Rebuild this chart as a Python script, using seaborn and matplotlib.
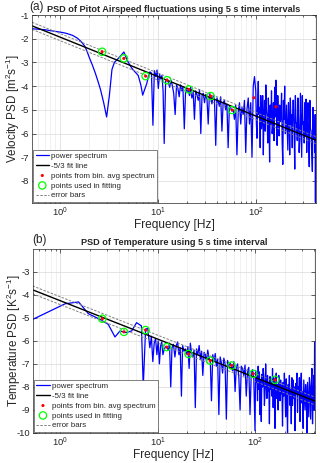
import numpy as np
import pandas as pd
import seaborn as sns
import matplotlib
matplotlib.use("Agg")
from matplotlib import pyplot as plt

# ---- data (log10 PSD values) ----
freq_lo_a = [0.52, 0.6, 0.7, 0.8, 0.9, 1.0, 1.1, 1.2, 1.35, 1.5,
             1.65, 1.8, 1.9, 2.0, 2.15, 2.3, 2.45, 2.6, 2.8, 3.0,
             3.2, 3.4, 3.6, 3.8, 4.1, 4.5, 4.8, 5.0, 5.3, 5.6,
             6.0, 6.3, 6.7, 7.0, 7.4, 7.7, 8.0, 8.3, 8.6, 8.9]
psd_lo_a = [-1.58, -1.60, -1.62, -1.66, -1.69, -1.72, -1.75, -1.79, -1.86, -1.97,
            -2.12, -2.32, -2.55, -2.80, -3.12, -3.45, -3.80, -4.15, -4.70, -5.30,
            -4.40, -3.30, -3.00, -2.90, -2.76, -2.56, -2.85, -3.00, -3.18, -3.32,
            -3.45, -3.55, -3.95, -4.38, -4.10, -3.89, -3.60, -3.40, -3.45, -5.65]

freq_lo_b = [0.52, 1.12, 1.54, 1.94, 2.56, 3.1, 3.64, 4.1, 4.7, 5.4,
             6.06, 6.8, 7.1, 7.5, 7.9, 8.3, 8.6, 8.9]
psd_lo_b = [-5.07, -4.39, -4.31, -4.82, -5.07, -5.28, -5.83, -5.57, -5.64, -5.57,
            -5.21, -5.35, -8.00, -5.50, -5.45, -6.30, -5.80, -6.90]

freq_hi = [9.2, 9.5, 9.8, 10.1, 10.4, 10.7, 11.0, 11.3, 11.6, 12.0,
           12.4, 12.8, 13.2, 13.6, 14.0, 14.5, 15.0, 15.5, 16.0, 16.5,
           17.0, 17.5, 18.0, 18.6, 19.2, 19.8, 20.4, 21.0, 21.6, 22.2,
           22.9, 23.6, 24.3, 25.0, 25.8, 26.6, 27.4, 28.2, 29.0, 29.9,
           30.8, 31.7, 32.6, 33.6, 34.6, 35.6, 36.7, 37.8, 38.9, 40.0,
           41.2, 42.4, 43.7, 45.0, 46.3, 47.7, 49.1, 50.6, 52.1, 53.6,
           55.2, 56.9, 58.6, 60.4, 62.2, 64.0, 66.0, 68.0, 70.0, 72.0,
           74.2, 76.4, 78.7, 81.0, 83.5, 86.0, 88.5, 91.2, 93.9, 96.7,
           99.6, 101.1, 102.6, 104.1, 105.7, 107.3, 108.9, 110.5, 112.1, 113.8,
           115.5, 117.2, 119.0, 120.8, 122.5, 124.4, 126.2, 128.1, 130.0, 132.0,
           133.9, 135.9, 137.9, 140.0, 142.0, 144.2, 146.3, 148.5, 150.7, 153.0,
           155.2, 157.5, 159.8, 162.2, 164.6, 167.1, 169.6, 172.1, 174.6, 177.2,
           179.9, 182.6, 185.3, 188.0, 190.8, 193.6, 196.5, 199.4, 202.4, 205.4,
           208.5, 211.6, 214.8, 218.0, 221.2, 224.5, 227.8, 231.2, 234.7, 238.2,
           241.7, 245.3, 249.0, 252.7, 256.4, 260.2, 264.1, 268.0, 272.0, 276.1,
           280.2, 284.4, 288.6, 292.9, 297.3, 301.7, 306.2, 310.8, 315.4, 320.1,
           324.8, 329.7, 334.6, 339.6, 344.6, 349.8, 355.0, 360.3, 365.6, 371.1,
           376.6, 382.2, 387.9, 393.7, 399.5, 402.0, 404.5, 407.0, 408.5, 410.0]
psd_hi_a = [-3.35, -3.60, -3.32, -4.10, -3.50, -3.70, -3.55, -4.20, -6.42, -3.80,
            -3.70, -3.85, -4.05, -3.75, -3.95, -4.30, -5.20, -3.95, -4.10, -4.45,
            -3.95, -4.20, -4.05, -5.80, -4.10, -4.25, -4.15, -4.40, -4.05, -4.50,
            -4.25, -5.40, -4.20, -4.35, -4.60, -4.15, -6.00, -4.40, -4.30, -4.70,
            -4.35, -4.55, -5.60, -4.30, -4.45, -4.75, -4.40, -4.60, -6.50, -4.50,
            -4.65, -4.85, -4.45, -5.90, -4.70, -4.60, -5.00, -4.75, -6.60, -4.85,
            -4.90, -5.05, -5.00, -5.40, -4.80, -6.90, -5.10, -4.70, -5.60, -4.90,
            -5.20, -4.60, -6.80, -5.00, -4.50, -5.60, -4.70, -7.00, -4.00, -3.60,
            -4.20, -5.60, -6.20, -4.60, -3.80, -5.20, -4.90, -6.60, -4.40, -5.80,
            -5.50, -4.40, -6.90, -5.10, -4.60, -5.90, -3.95, -5.00, -5.30, -6.40,
            -4.50, -5.40, -7.20, -4.80, -5.60, -4.20, -6.00, -5.70, -4.70, -6.30,
            -4.05, -5.30, -3.75, -5.00, -6.50, -4.40, -5.60, -6.10, -4.80, -5.50,
            -5.30, -4.30, -6.40, -7.30, -4.60, -5.40, -4.00, -6.00, -5.80, -4.80,
            -5.80, -6.70, -4.70, -5.30, -6.90, -4.50, -5.60, -5.20, -6.60, -4.60,
            -4.60, -5.90, -7.50, -4.40, -5.50, -5.60, -6.30, -4.50, -5.40, -6.80,
            -6.20, -4.30, -5.70, -7.00, -4.40, -5.60, -5.50, -6.40, -4.70, -6.10,
            -4.55, -6.80, -5.50, -4.70, -6.20, -7.40, -4.60, -5.80, -5.90, -6.90,
            -7.60, -4.90, -6.20, -5.60, -6.80, -5.20, -8.90, -6.00, -7.20, -6.20]
psd_hi_b = [-6.10, -5.90, -6.60, -6.00, -7.00, -6.20, -6.05, -6.60, -6.40, -6.25,
            -6.27, -6.40, -6.10, -8.00, -6.30, -6.15, -6.70, -6.20, -6.05, -6.60,
            -6.30, -8.40, -6.20, -6.45, -6.35, -6.60, -6.25, -7.20, -6.10, -6.50,
            -6.70, -6.40, -8.90, -6.35, -6.60, -6.20, -6.80, -6.45, -7.50, -6.50,
            -6.60, -6.90, -6.40, -6.75, -6.86, -8.60, -6.60, -6.90, -6.55, -7.10,
            -6.80, -9.20, -6.70, -6.95, -7.40, -6.75, -7.00, -9.40, -6.85, -7.10,
            -6.95, -7.07, -7.30, -6.90, -8.20, -7.15, -7.00, -7.60, -9.00, -7.10,
            -7.20, -7.50, -7.05, -8.40, -7.30, -7.15, -9.20, -7.40, -7.25, -7.60,
            -9.90, -7.30, -7.80, -7.50, -8.60, -7.10, -8.10, -7.35, -9.20, -7.70,
            -9.50, -7.45, -8.00, -7.20, -7.60, -8.80, -8.30, -7.00, -7.90, -8.50,
            -7.50, -8.20, -7.80, -9.60, -7.55, -8.10, -7.70, -8.40, -7.20, -8.90,
            -7.60, -8.00, -9.80, -7.75, -7.40, -8.50, -7.90, -9.00, -7.50, -8.20,
            -8.60, -7.70, -8.30, -7.95, -9.70, -7.80, -8.40, -7.40, -8.20, -9.30,
            -7.65, -8.60, -10.0, -7.90, -8.30, -7.50, -8.80, -8.10, -9.60, -7.60,
            -8.80, -7.70, -8.50, -8.00, -9.90, -7.85, -8.30, -7.40, -9.10, -8.00,
            -8.30, -7.60, -9.50, -8.00, -7.40, -8.70, -8.20, -9.80, -7.70, -8.40,
            -9.00, -7.90, -8.40, -10.0, -7.80, -8.60, -9.30, -7.60, -8.00, -9.40,
            -8.00, -7.20, -9.60, -8.20, -7.50, -9.00, -8.60, -6.30, -6.05, -9.00]

# bin-averaged spectrum points
freq_bins = [2.7, 4.5, 7.5, 12.4, 20.7, 34.5, 57.3, 95.5, 160]
bin_a = [-2.55, -2.83, -3.58, -3.75, -4.14, -4.42, -5.01, -4.49, -4.87]
bin_b = [-5.04, -5.61, -5.53, -6.27, -6.57, -6.86, -7.07, -7.43, -7.69]
n_used_a = 7
n_used_b = 9
err_a = 0.15
err_b = 0.17

sns.set_theme(style="ticks")
plt.rcParams['font.family'] = ['Liberation Sans', 'DejaVu Sans']
plt.rcParams['mathtext.fontset'] = 'custom'
plt.rcParams['mathtext.rm'] = 'Liberation Sans'
plt.rcParams['mathtext.it'] = 'Liberation Sans:italic'

fig = plt.figure(figsize=(3.2, 4.63), dpi=100)
ax_a = fig.add_axes([0.100, 0.5616, 0.8875, 0.406])
ax_b = fig.add_axes([0.102, 0.0648, 0.882, 0.398])


def draw_panel(ax, f_spec, p_spec, bins, n_used, err, ylim, yticks, title, ylabel, tag, tag_x):
	spec = pd.DataFrame({"f": f_spec, "p": p_spec})
	sns.lineplot(data=spec, x="f", y="p", ax=ax, color=(0, 0, 1), lw=0.9,
	             estimator=None, sort=False, label="power spectrum")

	# -5/3 fit through the used bin points (slope fixed)
	lf = np.log10(freq_bins[:n_used])
	icpt = np.mean(np.array(bins[:n_used]) + 5 / 3 * lf)
	f_fit = np.array([f_spec[0], f_spec[-1]])
	p_fit = icpt - 5 / 3 * np.log10(f_fit)
	sns.lineplot(x=f_fit, y=p_fit, ax=ax, color="black", lw=1.0, label="-5/3 fit line")

	sns.scatterplot(x=freq_bins, y=bins, ax=ax, color="red", marker="o", s=5,
	                edgecolor="none", label="points from bin. avg spectrum", zorder=5)
	sns.scatterplot(x=freq_bins[:n_used], y=bins[:n_used], ax=ax, marker="o", s=28,
	                facecolors="none", edgecolor=(0, 1, 0), linewidth=0.9,
	                label="points used in fitting", zorder=6)
	ax.plot(f_fit, p_fit + err, color="0.5", lw=0.7, ls=(0, (2.5, 1.5)), label="error bars")
	ax.plot(f_fit, p_fit - err, color="0.5", lw=0.7, ls=(0, (2.5, 1.5)))

	ax.set_xscale("log")
	ax.set_xlim(0.52, 410)
	ax.set_ylim(*ylim)
	ax.set_yticks(yticks)
	ax.set_yticklabels([str(t) for t in yticks])
	ax.grid(True, which="major", color="0.85", lw=0.5)
	ax.grid(True, which="minor", axis="x", color="0.9", lw=0.4)
	ax.tick_params(which="both", direction="in", top=True, right=True, labelsize=6.8,
	               width=0.5, pad=2, colors="0.15")
	ax.tick_params(which="major", length=3)
	ax.tick_params(which="minor", length=1.5)
	for s in ax.spines.values():
		s.set_linewidth(0.5)
		s.set_color("0.15")
	ax.set_title(title, fontsize=6.6, fontweight="bold", pad=2.5)
	ax.set_xlabel("Frequency [Hz]", fontsize=8.6, va="center")
	ax.set_ylabel(ylabel, fontsize=8.4, va="center")
	ax.xaxis.set_label_coords(0.5, -0.118)
	ax.yaxis.set_label_coords(-0.068, 0.5)
	ax.text(tag_x, 1.045, tag, transform=ax.transAxes, fontsize=8.5, va="center", ha="left")

	h, l = ax.get_legend_handles_labels()
	leg = ax.legend(h, l, loc="lower left", bbox_to_anchor=(0, 0), borderaxespad=0.15,
	                fontsize=5.7, frameon=True, fancybox=False, framealpha=1,
	                handlelength=1.7, handletextpad=0.3, labelspacing=0.3,
	                borderpad=0.3)
	leg.get_frame().set_edgecolor("0.3")
	leg.get_frame().set_linewidth(0.5)


draw_panel(ax_a, freq_lo_a + freq_hi, psd_lo_a + psd_hi_a, bin_a, n_used_a, err_a,
           (-8.93, -1), list(range(-8, 0)),
           "PSD of Pitot Airspeed fluctuations using 5 s time intervals",
           "Velocity PSD [m$^2$s$^{-1}$]", "(a)", -0.01)
draw_panel(ax_b, freq_lo_b + freq_hi, psd_lo_b + psd_hi_b, bin_b, n_used_b, err_b,
           (-10, -2), list(range(-10, -2)),
           "PSD of Temperature using 5 s time interval",
           "Temperature PSD [K$^2$s$^{-1}$]", "(b)", 0.0)

fig.savefig("out.png", dpi=100)
